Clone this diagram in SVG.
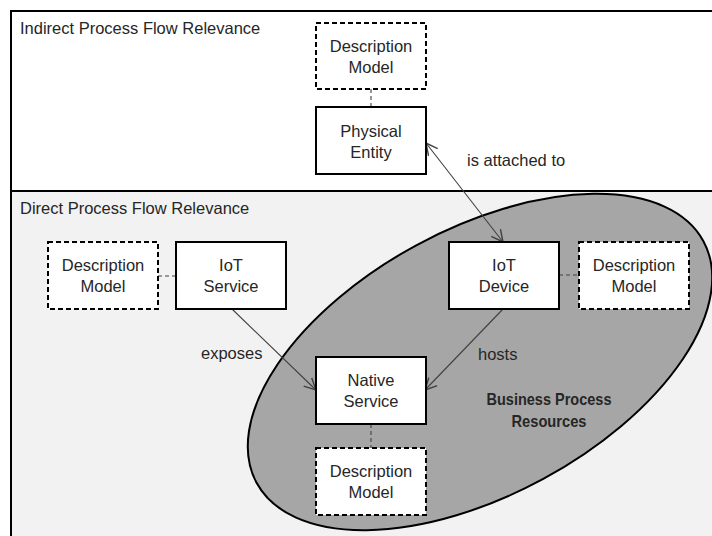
<svg xmlns="http://www.w3.org/2000/svg" width="712" height="536" viewBox="0 0 712 536">
<style>
  text { font-family: "Liberation Sans", Arial, sans-serif; font-size: 16.5px; fill: #262626; }
  .c { text-anchor: middle; }
  .b { font-weight: bold; font-size: 16.5px; }
  .solid { fill: #ffffff; stroke: #000000; stroke-width: 2; }
  .dash { fill: #ffffff; stroke: #000000; stroke-width: 2; stroke-dasharray: 5 3; }
  .link { stroke: #404040; stroke-width: 1.1; fill: none; }
  .dl { stroke: #404040; stroke-width: 1.1; fill: none; stroke-dasharray: 4 3; }
</style>
<defs>
  <marker id="ah" markerUnits="userSpaceOnUse" markerWidth="14" markerHeight="14" refX="10" refY="5" orient="auto-start-reverse" viewBox="0 0 12 10">
    <path d="M0,0 L10,5 L0,10" fill="none" stroke="#404040" stroke-width="1.2"/>
  </marker>
</defs>
<g id="background">
  <rect x="11" y="11" width="720" height="540" fill="#ffffff" stroke="#000000" stroke-width="2"/>
  <rect x="11" y="191" width="720" height="360" fill="#f2f2f2" stroke="#000000" stroke-width="2"/>
  <text x="20" y="34">Indirect Process Flow Relevance</text>
  <text x="20" y="214">Direct Process Flow Relevance</text>
</g>
<g id="resources">
  <ellipse cx="480" cy="362" rx="254" ry="133" transform="rotate(-28.4 480 362)" fill="#a6a6a6" stroke="#000000" stroke-width="2"/>
  <text class="c b" x="549" y="405" textLength="125" lengthAdjust="spacingAndGlyphs">Business Process</text>
  <text class="c b" x="549" y="427" textLength="75" lengthAdjust="spacingAndGlyphs">Resources</text>
</g>
<g id="connectors">
  <line class="dl" x1="371" y1="89" x2="371" y2="107"/>
  <line class="dl" x1="158" y1="276" x2="176" y2="276"/>
  <line class="dl" x1="559" y1="275" x2="579" y2="275"/>
  <line class="dl" x1="371" y1="424" x2="371" y2="448"/>
  <line class="link" x1="426" y1="143" x2="503" y2="242" marker-start="url(#ah)" marker-end="url(#ah)"/>
  <line class="link" x1="232" y1="309" x2="316" y2="390" marker-end="url(#ah)"/>
  <line class="link" x1="503" y1="309" x2="425" y2="390" marker-end="url(#ah)"/>
  <text x="467" y="166">is attached to</text>
  <text x="201" y="359">exposes</text>
  <text x="478" y="360">hosts</text>
</g>
<g id="dm-top">
  <rect class="dash" x="316" y="23" width="110" height="66"/>
  <text class="c" x="371" y="52">Description</text>
  <text class="c" x="371" y="73">Model</text>
</g>
<g id="physical-entity">
  <rect class="solid" x="316" y="107" width="110" height="67"/>
  <text class="c" x="371" y="137">Physical</text>
  <text class="c" x="371" y="158">Entity</text>
</g>
<g id="dm-left">
  <rect class="dash" x="48" y="242" width="110" height="67"/>
  <text class="c" x="103" y="271">Description</text>
  <text class="c" x="103" y="292">Model</text>
</g>
<g id="iot-service">
  <rect class="solid" x="176" y="242" width="110" height="67"/>
  <text class="c" x="231" y="271">IoT</text>
  <text class="c" x="231" y="292">Service</text>
</g>
<g id="iot-device">
  <rect class="solid" x="449" y="242" width="110" height="67"/>
  <text class="c" x="504" y="271">IoT</text>
  <text class="c" x="504" y="292">Device</text>
</g>
<g id="dm-right">
  <rect class="dash" x="579" y="242" width="110" height="67"/>
  <text class="c" x="634" y="271">Description</text>
  <text class="c" x="634" y="292">Model</text>
</g>
<g id="native-service">
  <rect class="solid" x="316" y="357" width="110" height="67"/>
  <text class="c" x="371" y="386">Native</text>
  <text class="c" x="371" y="407">Service</text>
</g>
<g id="dm-bottom">
  <rect class="dash" x="316" y="448" width="110" height="67"/>
  <text class="c" x="371" y="477">Description</text>
  <text class="c" x="371" y="498">Model</text>
</g>
</svg>
